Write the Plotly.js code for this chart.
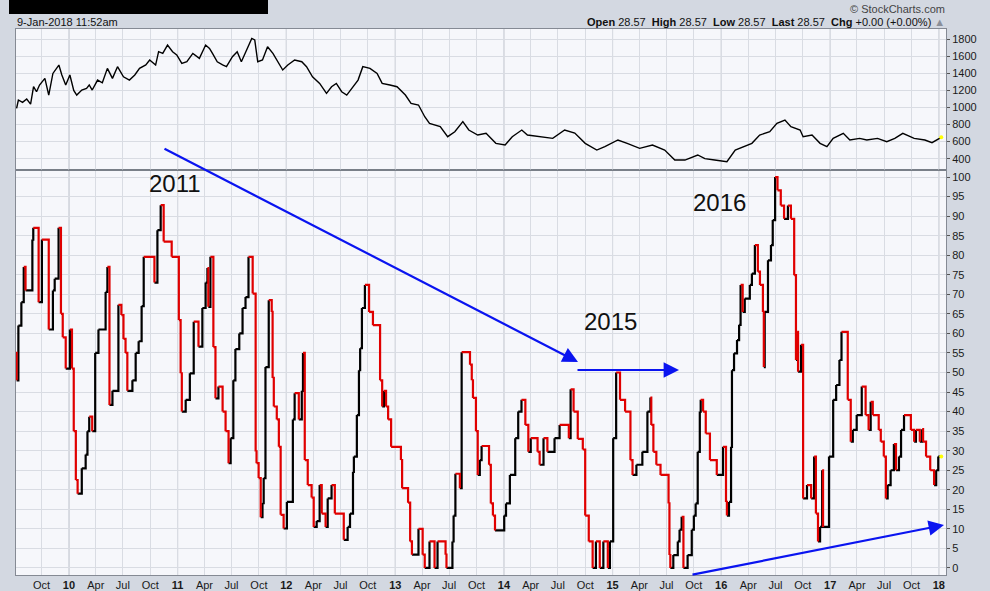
<!DOCTYPE html>
<html>
<head>
<meta charset="utf-8">
<script src="https://cdn.plot.ly/plotly-3.0.1.min.js"></script>
<style>html,body{margin:0;padding:0;background:#d3d8e1;}#chart{width:990px;height:591px;}</style>
</head>
<body>
<div id="chart"></div>
<script>
// ---- Price panel (top): weekly closes ----
const priceDates = ['2009-07-09','2009-07-15','2009-07-29','2009-08-12','2009-08-25','2009-09-04','2009-09-14','2009-09-24','2009-10-12','2009-10-25','2009-11-08','2009-11-28','2009-12-08','2009-12-21','2010-01-04','2010-01-17','2010-01-27','2010-02-13','2010-03-01','2010-03-10','2010-03-20','2010-04-07','2010-04-23','2010-05-10','2010-05-27','2010-06-13','2010-07-03','2010-07-23','2010-08-10','2010-08-26','2010-09-16','2010-09-29','2010-10-19','2010-10-29','2010-11-12','2010-11-28','2010-12-15','2010-12-29','2011-01-15','2011-02-01','2011-02-21','2011-03-15','2011-04-05','2011-04-18','2011-04-28','2011-05-14','2011-06-01','2011-06-14','2011-07-04','2011-07-20','2011-08-03','2011-08-20','2011-09-07','2011-09-17','2011-09-27','2011-10-13','2011-10-30','2011-11-17','2011-12-03','2011-12-20','2012-01-06','2012-01-29','2012-02-22','2012-03-09','2012-03-29','2012-04-22','2012-05-15','2012-06-01','2012-06-17','2012-07-05','2012-07-22','2012-08-12','2012-08-29','2012-09-14','2012-10-08','2012-11-01','2012-11-18','2012-12-14','2013-01-07','2013-02-04','2013-02-23','2013-03-20','2013-04-10','2013-04-26','2013-06-01','2013-06-26','2013-07-20','2013-08-16','2013-09-05','2013-10-05','2013-11-02','2013-12-05','2014-01-05','2014-01-29','2014-03-02','2014-03-21','2014-05-01','2014-06-14','2014-07-24','2014-08-27','2014-10-01','2014-11-09','2014-12-06','2015-01-19','2015-02-19','2015-04-02','2015-05-15','2015-06-25','2015-07-29','2015-09-01','2015-10-14','2015-11-07','2015-12-10','2016-01-20','2016-02-17','2016-03-13','2016-04-13','2016-05-09','2016-06-12','2016-07-06','2016-08-02','2016-08-22','2016-09-22','2016-10-02','2016-11-01','2016-11-28','2016-12-21','2017-01-11','2017-02-14','2017-03-08','2017-04-10','2017-05-04','2017-06-09','2017-07-10','2017-08-06','2017-09-02','2017-10-10','2017-11-15','2017-12-09','2018-01-09'];
const priceValues = [990,1088,1060,1100,1040,1244,1185,1264,1342,1146,1400,1498,1381,1264,1381,1200,1146,1205,1225,1264,1205,1322,1290,1459,1342,1479,1361,1322,1381,1459,1500,1557,1498,1655,1635,1733,1655,1616,1518,1537,1635,1577,1733,1694,1635,1537,1500,1479,1596,1655,1537,1674,1811,1792,1537,1557,1713,1635,1537,1440,1498,1557,1537,1479,1361,1283,1166,1244,1283,1185,1146,1244,1322,1479,1459,1400,1283,1264,1244,1146,1049,1029,892,814,775,658,716,834,736,677,697,580,560,658,736,677,658,638,736,700,580,501,540,619,580,521,560,501,384,384,443,400,384,364,501,540,580,677,716,814,853,775,736,658,677,580,540,638,697,619,638,619,638,599,638,697,638,619,587,650];

// ---- Indicator panel (bottom): value changes (step series) ----
const indDates = ['2009-07-05','2009-07-09','2009-07-15','2009-07-25','2009-08-02','2009-08-08','2009-08-31','2009-09-03','2009-09-21','2009-10-02','2009-10-25','2009-11-08','2009-11-14','2009-11-27','2009-12-05','2009-12-11','2009-12-21','2010-01-04','2010-01-11','2010-01-17','2010-01-24','2010-01-30','2010-02-13','2010-02-26','2010-03-04','2010-03-10','2010-03-20','2010-03-30','2010-04-10','2010-05-04','2010-05-10','2010-05-17','2010-05-27','2010-06-16','2010-06-26','2010-07-03','2010-07-10','2010-07-16','2010-08-02','2010-08-13','2010-08-23','2010-09-02','2010-09-09','2010-10-15','2010-10-25','2010-11-05','2010-11-15','2010-12-12','2011-01-05','2011-01-11','2011-01-15','2011-01-28','2011-02-11','2011-02-24','2011-03-12','2011-03-25','2011-04-05','2011-04-11','2011-04-14','2011-04-21','2011-05-01','2011-05-08','2011-05-18','2011-06-01','2011-06-11','2011-06-21','2011-06-28','2011-07-07','2011-07-14','2011-07-27','2011-08-07','2011-08-17','2011-08-27','2011-09-10','2011-09-20','2011-09-23','2011-09-30','2011-10-07','2011-10-13','2011-10-17','2011-10-23','2011-11-03','2011-11-13','2011-11-16','2011-11-20','2011-11-30','2011-12-07','2011-12-13','2011-12-23','2012-01-03','2012-01-23','2012-01-29','2012-02-12','2012-02-22','2012-02-26','2012-03-03','2012-03-13','2012-03-26','2012-04-02','2012-04-12','2012-04-22','2012-04-29','2012-05-12','2012-05-19','2012-06-01','2012-06-12','2012-07-12','2012-07-25','2012-08-02','2012-08-12','2012-08-15','2012-08-25','2012-09-01','2012-09-05','2012-09-11','2012-09-21','2012-10-05','2012-10-18','2012-11-11','2012-11-18','2012-11-24','2012-12-01','2012-12-08','2012-12-18','2013-01-20','2013-01-24','2013-02-13','2013-02-20','2013-02-26','2013-03-20','2013-04-03','2013-04-10','2013-04-26','2013-05-13','2013-05-23','2013-06-19','2013-06-22','2013-07-12','2013-07-16','2013-07-22','2013-08-06','2013-08-12','2013-09-09','2013-09-15','2013-09-19','2013-09-29','2013-10-05','2013-10-12','2013-10-18','2013-11-12','2013-11-18','2013-11-25','2013-12-02','2014-01-02','2014-01-08','2014-01-21','2014-02-08','2014-02-18','2014-03-01','2014-03-14','2014-03-24','2014-04-01','2014-04-24','2014-05-01','2014-05-14','2014-05-27','2014-06-20','2014-07-07','2014-08-07','2014-08-13','2014-08-23','2014-09-06','2014-09-23','2014-10-01','2014-10-13','2014-10-26','2014-11-06','2014-11-19','2014-12-01','2014-12-16','2014-12-23','2015-01-03','2015-01-13','2015-01-26','2015-02-12','2015-03-02','2015-03-09','2015-03-22','2015-04-11','2015-04-28','2015-05-08','2015-05-11','2015-05-18','2015-05-28','2015-06-11','2015-07-08','2015-07-11','2015-07-14','2015-07-24','2015-08-08','2015-08-14','2015-08-21','2015-08-27','2015-09-10','2015-09-24','2015-10-01','2015-10-07','2015-10-14','2015-10-21','2015-10-24','2015-11-01','2015-11-10','2015-11-24','2015-12-17','2016-01-07','2016-01-17','2016-01-20','2016-01-27','2016-02-03','2016-02-06','2016-02-13','2016-02-23','2016-03-01','2016-03-06','2016-03-13','2016-03-20','2016-04-06','2016-04-13','2016-04-23','2016-05-03','2016-05-10','2016-05-20','2016-05-23','2016-05-26','2016-06-06','2016-06-16','2016-06-22','2016-06-30','2016-07-08','2016-07-19','2016-07-30','2016-08-12','2016-08-22','2016-09-02','2016-09-08','2016-09-12','2016-09-15','2016-09-25','2016-10-02','2016-10-15','2016-10-29','2016-11-08','2016-11-14','2016-11-21','2016-11-28','2016-12-05','2016-12-08','2016-12-28','2017-01-11','2017-01-21','2017-02-01','2017-02-08','2017-03-01','2017-03-11','2017-03-18','2017-03-31','2017-04-17','2017-04-30','2017-05-10','2017-05-17','2017-05-24','2017-06-13','2017-06-20','2017-06-30','2017-07-07','2017-07-13','2017-07-23','2017-08-03','2017-08-10','2017-08-20','2017-08-27','2017-09-06','2017-09-29','2017-10-10','2017-10-16','2017-10-29','2017-11-06','2017-11-09','2017-11-19','2017-12-03','2017-12-16','2017-12-23','2017-12-30','2018-01-09'];
const indValues = [55,48,62,68,77,71,84,87,68,84,61,71,74,87,65,59,51,61,51,35,22.5,19,25.5,29,35,38.7,35,55,61,70.6,77,41.7,45.3,67.3,64.7,58.6,55,45.3,48,55,58,67,79.6,73,86.4,92.8,83.5,79.6,63.4,49.8,40,43,49.8,63,56.6,66.5,73,76.7,66.8,79.6,56.5,43.4,46.4,40,35,26.8,33.2,48,56,60,66.5,69.3,79.6,70.2,29.8,26.8,23,13,16.6,23,51.4,68.5,65.5,48.6,41.3,38,31,13.6,10.1,16.9,38,44.7,38,45.3,55,27.6,21.2,18,10.5,12,21.2,13.9,10.5,17.8,21.2,13.9,7.2,10.5,13.9,24.6,28.5,39.1,50.6,56.2,66.5,72.4,65.5,62.1,48,41.3,45.3,41.3,38,31,27.6,20.4,16.7,6.8,3.4,10,3.4,0,6.8,0,6.8,3.4,0,6.8,13.4,24.1,20.4,55.2,52,48,43.5,35,23.8,27.6,31.2,26.4,16.5,13.4,9.6,13.4,16.5,23.8,33.2,40,43,36.6,29.7,33.2,29.7,26.4,33.2,29.7,33.2,36.6,33.2,45.7,40,33,30.3,13.4,6.8,0,6.8,0,6.8,0,6.8,33.2,50,43,40,27.6,23.8,26.4,29.7,40,43.6,36.6,29.7,26.4,23.8,16.5,3.3,0,3.3,6.8,9.8,13.1,0,3.3,9.8,13.4,16.5,29.7,40,43,40,34.4,27.6,23.8,31,16.9,13.4,16.9,31,50.6,54.9,58.3,62.2,72.4,65.5,68.9,72.4,75.3,82.6,75.8,72.4,65.5,51.4,65.5,78.7,82.6,89,100,96.6,92.7,89.3,92.7,89.3,74.9,53.2,60.4,50.2,57.1,17.8,21.2,17.8,28.5,13.9,6.8,10.5,25,10.5,28.5,43,46.8,53.2,60.4,43,32.3,35.3,39.1,46.4,39.1,35.3,42.5,39.1,35.3,32.3,28.5,17.8,21.2,25,31.7,25,28.5,35.3,39.1,35.3,32.3,35.3,32.3,35.5,32.3,28.5,25,21.2,25,28.5,28.5];

// ---- Axis labels ----
const tickDates = ['2009-10-01','2010-01-01','2010-04-01','2010-07-01','2010-10-01','2011-01-01','2011-04-01','2011-07-01','2011-10-01','2012-01-01','2012-04-01','2012-07-01','2012-10-01','2013-01-01','2013-04-01','2013-07-01','2013-10-01','2014-01-01','2014-04-01','2014-07-01','2014-10-01','2015-01-01','2015-04-01','2015-07-01','2015-10-01','2016-01-01','2016-04-01','2016-07-01','2016-10-01','2017-01-01','2017-04-01','2017-07-01','2017-10-01','2018-01-01'];
const tickLabels = ['Oct','10','Apr','Jul','Oct','11','Apr','Jul','Oct','12','Apr','Jul','Oct','13','Apr','Jul','Oct','14','Apr','Jul','Oct','15','Apr','Jul','Oct','16','Apr','Jul','Oct','17','Apr','Jul','Oct','18'];
const yearStarts = ['2010-01-01','2011-01-01','2012-01-01','2013-01-01','2014-01-01','2015-01-01','2016-01-01','2017-01-01','2018-01-01'];
const priceTicks = [400,600,800,1000,1200,1400,1600,1800];
const notes = ['2011','2015','2016'];

// build colored step segments for the indicator (red = falling, black = rising)
const red = {x:[], y:[]}, blk = {x:[], y:[]};
for (let i = 0; i < indValues.length - 1; i++) {
  const t = indValues[i+1] < indValues[i] ? red : blk;
  t.x.push(indDates[i], indDates[i+1], indDates[i+1], null);
  t.y.push(indValues[i], indValues[i], indValues[i+1], null);
}
const nI = indValues.length - 1, nP = priceValues.length - 1;

const traces = [
  {type:'scatter', mode:'lines', x:priceDates, y:priceValues, xaxis:'x2', yaxis:'y2',
   line:{color:'#000', width:1.4}, hoverinfo:'skip'},
  {type:'scatter', mode:'lines', x:blk.x, y:blk.y, xaxis:'x', yaxis:'y',
   line:{color:'#000', width:2.2}, connectgaps:false, hoverinfo:'skip'},
  {type:'scatter', mode:'lines', x:red.x, y:red.y, xaxis:'x', yaxis:'y',
   line:{color:'#e00000', width:2.2}, connectgaps:false, hoverinfo:'skip'},
  {type:'scatter', mode:'markers', x:[priceDates[nP]], y:[priceValues[nP]], xaxis:'x2', yaxis:'y2',
   marker:{color:'#ffff00', size:4, line:{width:0}}, hoverinfo:'skip'},
  {type:'scatter', mode:'markers', x:[indDates[nI]], y:[indValues[nI]], xaxis:'x', yaxis:'y',
   marker:{color:'#ffff00', size:4, line:{width:0}}, hoverinfo:'skip'}
];

const FONT = 'Liberation Sans, Arial, sans-serif';
const gridC = '#d9dce3', frameC = '#858a94';
const xr = ['2009-07-07','2018-01-25'];
const split = (575-170)/546;

const shapes = yearStarts.map(d => ({type:'line', xref:'x', yref:'paper', x0:d, x1:d, y0:0, y1:1,
  line:{color:'#b6bac3', width:1}, layer:'below'}));
shapes.push({type:'rect', xref:'paper', yref:'paper', x0:(9-16)/930, x1:(268-16)/930, y0:(575-14)/546, y1:(575+2)/546,
  fillcolor:'#000', line:{width:0}});
shapes.push({type:'line', xref:'paper', yref:'paper', x0:0, x1:1, y0:split, y1:split, line:{color:'#6f747d', width:1.2}});

function px2x(p){ return (p-16)/930; }
function py2y(p){ return (575-p)/546; }

const annotations = [
  {xref:'paper', yref:'paper', x:px2x(15), y:py2y(22), xanchor:'left', yanchor:'middle', showarrow:false,
   text:'9-Jan-2018 11:52am', font:{family:FONT, size:11, color:'#111'}},
  {xref:'paper', yref:'paper', x:px2x(947), y:py2y(22), xanchor:'right', yanchor:'middle', showarrow:false,
   text:'<b>Open</b> 28.57&nbsp; <b>High</b> 28.57&nbsp; <b>Low</b> 28.57&nbsp; <b>Last</b> 28.57&nbsp; <b>Chg</b> +0.00 (+0.00%) <span style="color:#8a8f99">▲</span>',
   font:{family:FONT, size:11, color:'#111'}},
  {xref:'paper', yref:'paper', x:px2x(947), y:py2y(9), xanchor:'right', yanchor:'middle', showarrow:false,
   text:'© StockCharts.com', font:{family:FONT, size:11, color:'#444'}},
  {xref:'paper', yref:'paper', x:px2x(175), y:py2y(183), xanchor:'center', yanchor:'middle', showarrow:false, text:notes[0], font:{family:FONT, size:24, color:'#111'}},
  {xref:'paper', yref:'paper', x:px2x(610), y:py2y(321), xanchor:'center', yanchor:'middle', showarrow:false, text:notes[1], font:{family:FONT, size:24, color:'#111'}},
  {xref:'paper', yref:'paper', x:px2x(719), y:py2y(202), xanchor:'center', yanchor:'middle', showarrow:false, text:notes[2], font:{family:FONT, size:24, color:'#111'}},
  {xref:'paper', yref:'paper', x:px2x(578), y:py2y(362), ax:163-578, ay:148-362, text:'', showarrow:true,
   arrowhead:2, arrowsize:1.4, arrowwidth:2.2, arrowcolor:'#0a14f0', standoff:0, startstandoff:0},
  {xref:'paper', yref:'paper', x:px2x(679), y:py2y(370), ax:576-679, ay:0, text:'', showarrow:true,
   arrowhead:2, arrowsize:1.4, arrowwidth:2.2, arrowcolor:'#0a14f0', standoff:0, startstandoff:0},
  {xref:'paper', yref:'paper', x:px2x(944), y:py2y(525), ax:691-944, ay:575-525, text:'', showarrow:true,
   arrowhead:2, arrowsize:1.4, arrowwidth:2.2, arrowcolor:'#0a14f0', standoff:0, startstandoff:0}
];

const layout = {
  width:990, height:591,
  margin:{l:16, r:44, t:29, b:16, pad:0},
  paper_bgcolor:'#d3d8e1', plot_bgcolor:'#f6f7fb',
  showlegend:false,
  font:{family:FONT, size:11, color:'#1a1a1a'},
  xaxis:{type:'date', range:xr, anchor:'y', tickmode:'array', tickvals:tickDates,
    ticktext:tickLabels.map(t => /^\d+$/.test(t) ? '<b>'+t+'</b>' : t),
    showgrid:true, gridcolor:gridC, gridwidth:1, ticks:'', zeroline:false,
    showline:true, linecolor:frameC, linewidth:1, mirror:true,
    tickfont:{family:FONT, size:11, color:'#1a1a1a'}, fixedrange:true},
  xaxis2:{type:'date', range:xr, anchor:'y2', tickmode:'array', tickvals:tickDates, showticklabels:false,
    showgrid:true, gridcolor:gridC, gridwidth:1, ticks:'', zeroline:false,
    showline:true, linecolor:frameC, linewidth:1, mirror:true, fixedrange:true},
  yaxis:{domain:[0, split], range:[-1.8, 101.8], side:'right', anchor:'x', tickmode:'linear', tick0:0, dtick:5,
    showgrid:true, gridcolor:gridC, gridwidth:1, zeroline:false, ticks:'outside', ticklen:3, tickcolor:'#555',
    showline:true, linecolor:frameC, linewidth:1, mirror:true,
    tickfont:{family:FONT, size:11, color:'#1a1a1a'}, fixedrange:true},
  yaxis2:{domain:[split, 1], range:[267, 1921], side:'right', anchor:'x2', tickmode:'array', tickvals:priceTicks,
    showgrid:true, gridcolor:gridC, gridwidth:1, zeroline:false, ticks:'outside', ticklen:3, tickcolor:'#555',
    showline:true, linecolor:frameC, linewidth:1, mirror:true,
    tickfont:{family:FONT, size:11, color:'#1a1a1a'}, fixedrange:true},
  shapes:shapes,
  annotations:annotations
};

Plotly.newPlot('chart', traces, layout, {displayModeBar:false, staticPlot:true});
</script>
</body>
</html>
